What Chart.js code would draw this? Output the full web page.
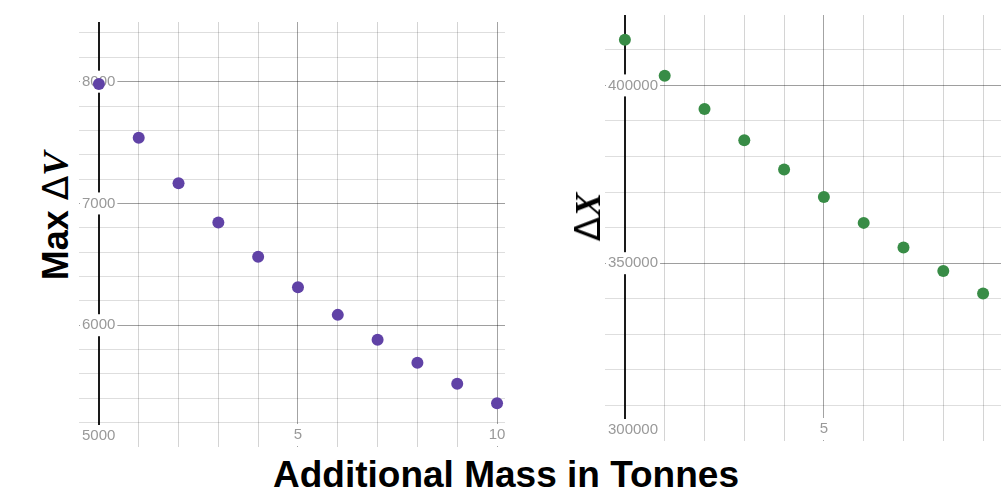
<!DOCTYPE html>
<html><head><meta charset="utf-8">
<script src="https://cdn.jsdelivr.net/npm/chart.js@4"></script>
<style>
html,body{margin:0;padding:0;background:#fff;width:1001px;height:489px;overflow:hidden;position:relative;}
canvas{position:absolute;}
#c1{left:79px;top:22px;}
#c2{left:605px;top:15px;}
.t{position:absolute;white-space:nowrap;color:#000;font-family:'Liberation Sans',Arial,sans-serif;font-weight:bold;font-size:36px;line-height:36px;}
.m{font-family:'Liberation Serif','Times New Roman',serif;font-style:italic;}
.d{font-family:'DejaVu Sans',sans-serif;font-style:normal;font-weight:normal;}
</style></head><body>
<canvas id="c1" width="426" height="425"></canvas>
<canvas id="c2" width="396" height="426"></canvas>
<div class="t" id="xt" style="left:506px;top:457px;font-size:37px;transform:translateX(-50%);">Additional Mass in Tonnes</div>
<div class="t" id="yt1" style="left:56px;top:216px;transform:translate(-50%,-50%) rotate(-90deg);">Max <span class="d">Δ</span><span class="m">V</span></div>
<div class="t" id="yt2" style="left:588px;top:217px;transform:translate(-50%,-50%) rotate(-90deg);"><span class="d">Δ</span><span class="m">X</span></div>
<script>
// ---- data ----
const massLeft = [0, 1, 2, 3, 4, 5, 6, 7, 8, 9, 10];
const maxDeltaV = [7981, 7540, 7166, 6844, 6562, 6312, 6085, 5880, 5691, 5519, 5360];
const massRight = [0, 1, 2, 3, 4, 5, 6, 7, 8, 9];
const deltaX = [412840, 402720, 393370, 384550, 376320, 368650, 361340, 354400, 347840, 341490];
const leftYTickLabels = [6000, 7000, 8000];
const leftXTickLabels = [5, 10];
const leftCornerLabel = 5000;
const rightYTickLabels = [350000, 400000];
const rightXTickLabels = [5];
const rightCornerLabel = 300000;

Chart.defaults.font.family = "'Liberation Sans', Arial, sans-serif";

function zeroPad(s) { s.paddingTop = 0; s.paddingBottom = 0; s.paddingLeft = 0; s.paddingRight = 0; }

function makeChart(id, xs, ys, color, xMin, xMax, yMin, yMax, yStep, yMajor, yLabels, xLabels, corner) {
  const tickFont = {size: 15, family: "'Liberation Sans', Arial, sans-serif"};
  const tickColor = '#999';
  return new Chart(document.getElementById(id), {
    type: 'scatter',
    data: {datasets: [{
      data: xs.map((x, i) => ({x: x, y: ys[i]})),
      backgroundColor: color, borderWidth: 0, pointRadius: 6, pointHoverRadius: 6
    }]},
    options: {
      responsive: false, animation: false, devicePixelRatio: 1, events: [],
      layout: {padding: 0, autoPadding: false},
      plugins: {legend: {display: false}, tooltip: {enabled: false}},
      scales: {
        x: {
          type: 'linear', position: 'bottom', min: xMin, max: xMax,
          afterBuildTicks: s => {
            const t = [];
            for (let v = Math.ceil(xMin); v <= xMax; v++) t.push({value: v});
            s.ticks = t;
          },
          afterFit: s => { s.height = 0; zeroPad(s); s._computeLabelArea = () => undefined; },
          border: {display: false},
          grid: {
            z: -1, drawTicks: false,
            color: c => {
              const v = c.tick.value;
              if (v === 0) return '#1a1a1a';
              if (v % 5 === 0) return 'rgba(0,0,0,0.36)';
              return 'rgba(0,0,0,0.17)';
            },
            lineWidth: c => c.tick.value === 0 ? 2 : 1
          },
          ticks: {
            autoSkip: false, maxRotation: 0, minRotation: 0,
            padding: -21, color: tickColor, font: tickFont,
            callback: v => xLabels.includes(v) ? String(v) : '',
            showLabelBackdrop: c => xLabels.includes(c.tick.value),
            backdropColor: '#fff', backdropPadding: 2
          }
        },
        y: {
          type: 'linear', position: 'left', min: yMin, max: yMax,
          afterBuildTicks: s => {
            const t = [];
            for (let v = Math.ceil(yMin / yStep) * yStep; v <= yMax; v += yStep) t.push({value: v});
            s.ticks = t;
          },
          afterFit: s => { s.width = 0; zeroPad(s); },
          border: {display: false},
          grid: {
            z: -1, drawTicks: false,
            color: c => {
              const v = c.tick.value;
              if (v === yMin) return 'rgba(0,0,0,0)';
              if (v % yMajor === 0) return 'rgba(0,0,0,0.38)';
              return 'rgba(0,0,0,0.13)';
            }
          },
          ticks: {
            autoSkip: false, mirror: true, padding: 3,
            color: tickColor, font: tickFont,
            callback: v => yLabels.includes(v) ? String(v) : '',
            showLabelBackdrop: c => yLabels.includes(c.tick.value),
            backdropColor: '#fff', backdropPadding: 2
          }
        },
        y2: {
          type: 'linear', position: 'left', min: yMin, max: yMax,
          afterBuildTicks: s => { s.ticks = [{value: yMin}]; },
          afterFit: s => { s.width = 0; zeroPad(s); },
          border: {display: false},
          grid: {display: false, drawTicks: false},
          ticks: {
            autoSkip: false, mirror: true, padding: 3, labelOffset: -11,
            color: tickColor, font: tickFont,
            callback: () => String(corner),
            showLabelBackdrop: true, backdropColor: '#fff', backdropPadding: 2
          }
        }
      }
    }
  });
}

makeChart('c1', massLeft, maxDeltaV, '#6042a6', -0.5, 10.2, 5000, 8490, 200, 1000,
  leftYTickLabels, leftXTickLabels, leftCornerLabel);
makeChart('c2', massRight, deltaX, '#388c46', -0.5, 9.45, 300000, 419800, 10000, 50000,
  rightYTickLabels, rightXTickLabels, rightCornerLabel);
</script>
</body></html>
